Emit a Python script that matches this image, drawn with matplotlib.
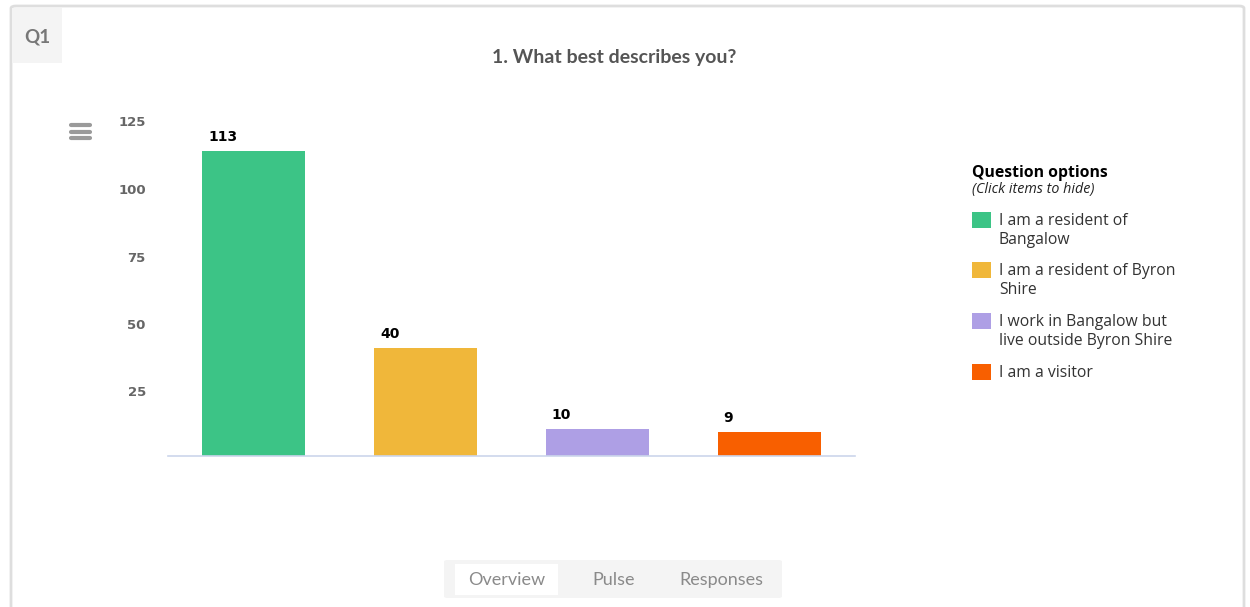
import matplotlib
matplotlib.use("Agg")
from matplotlib import pyplot as plt
from matplotlib.patches import FancyBboxPatch, Rectangle
from matplotlib.transforms import ScaledTranslation

# data
categories = ["I am a resident of\nBangalow", "I am a resident of Byron\nShire",
              "I work in Bangalow but\nlive outside Byron Shire", "I am a visitor"]
counts = [113, 40, 10, 9]
colors = ["#3cc486", "#f0b73a", "#ae9fe5", "#f85f00"]
yticks = [25, 50, 75, 100, 125]
tabs = ["Overview", "Pulse", "Responses"]

W, H = 1250, 607
fig = plt.figure(figsize=(W / 100, H / 100), dpi=100)

def fx(px):
    return px / W

def fy(py):
    return 1 - py / H

# outer card
fig.patches.append(FancyBboxPatch((fx(11), fy(640)), fx(1233), fy(6) - fy(640),
                                  boxstyle="round,pad=0,rounding_size=0.004",
                                  transform=fig.transFigure, facecolor="white",
                                  edgecolor="#dedede", linewidth=2, zorder=-10))
# Q1 badge
fig.patches.append(Rectangle((fx(12), fy(63)), fx(50), fy(8) - fy(63),
                             transform=fig.transFigure, facecolor="#f4f4f4", edgecolor="none",
                             zorder=-9))
fig.text(fx(37), fy(37), "Q1", ha="center", va="center", fontsize=13.5,
         fontweight="bold", color="#777777", family="Lato")

fig.text(fx(614), fy(58), "1. What best describes you?", ha="center", va="center",
         fontsize=14, fontweight="bold", color="#555555", family="Lato")

# hamburger menu
for yy in [125, 131.5, 138]:
    fig.add_artist(plt.Line2D([fx(71), fx(90)], [fy(yy), fy(yy)], transform=fig.transFigure,
                              color="#9a9a9a", linewidth=3, solid_capstyle="round"))

ax = fig.add_axes([fx(168), fy(456), fx(855) - fx(168), fy(118.5) - fy(456)])
ax.set_facecolor("none")
x = range(len(counts))
ax.bar(x, counts, width=0.6, color=colors, zorder=2)
for i, v in enumerate(counts):
    ax.annotate(str(v), (i - 0.3 + 0.035, v), xytext=(0, 5), textcoords="offset points",
                ha="left", va="bottom", fontsize=10, fontweight="bold", color="black")

ax.set_xlim(-0.5, len(counts) - 0.5)
ax.set_ylim(0, 125)
ax.set_yticks(yticks)
ax.set_yticklabels([str(t) for t in yticks], fontsize=9.5, fontweight="bold", color="#666666")
ax.tick_params(axis="y", length=0, pad=21)
shift = ScaledTranslation(7 / 100, -3 / 100, fig.dpi_scale_trans)
for lab in ax.get_yticklabels():
    lab.set_transform(lab.get_transform() + shift)
ax.set_xticks([])
for s in ["top", "right", "left"]:
    ax.spines[s].set_visible(False)
ax.spines["bottom"].set_color("#ccd6eb")
ax.spines["bottom"].set_linewidth(1.2)

# legend
fig.text(fx(972), fy(173), "Question options", ha="left", va="center", fontsize=11.3,
         fontweight="bold", color="black", family="Open Sans")
fig.text(fx(972), fy(190), "(Click items to hide)", ha="left", va="center", fontsize=10.3,
         style="italic", color="#222222", family="Open Sans")
leg_y = [220, 270, 321, 372]
for c, lab, ly in zip(colors, categories, leg_y):
    fig.patches.append(Rectangle((fx(972), fy(ly + 8)), fx(19), fy(ly - 8) - fy(ly + 8),
                                 transform=fig.transFigure, facecolor=c, edgecolor="none"))
    fig.text(fx(999), fy(ly - 7), lab, ha="left", va="top", fontsize=11.3, color="#333333",
             family="Open Sans", linespacing=1.25)

# tabs
fig.patches.append(FancyBboxPatch((fx(444), fy(598)), fx(338), fy(560) - fy(598),
                                  boxstyle="round,pad=0,rounding_size=0.003",
                                  transform=fig.transFigure, facecolor="#f4f4f4", edgecolor="none"))
fig.patches.append(Rectangle((fx(455), fy(595)), fx(103), fy(564) - fy(595),
                             transform=fig.transFigure, facecolor="white", edgecolor="none"))
for t, cx in zip(tabs, [507, 614, 721]):
    fig.text(fx(cx), fy(580), t, ha="center", va="center", fontsize=13, color="#8a8a8a",
             family="Lato")

fig.savefig("out.png", dpi=100)
